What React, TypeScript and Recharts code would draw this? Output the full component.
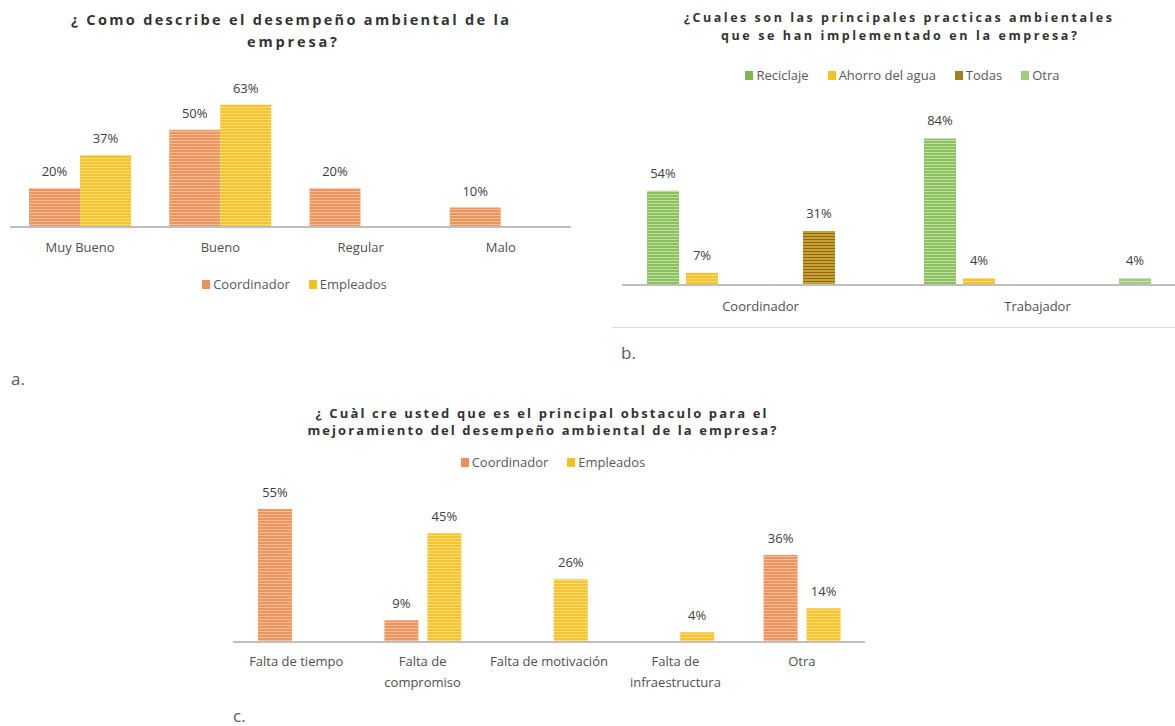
import React from 'react';
import { BarChart, Bar, XAxis, YAxis, Legend, LabelList } from 'recharts';

const FONT = '"Open Sans", "Liberation Sans", sans-serif';

// ---------- Chart a ----------
const ratingCategories = ['Muy Bueno', 'Bueno', 'Regular', 'Malo'];
const ratingCoordinador = [20, 50, 20, 10];
const ratingEmpleados: (number | null)[] = [37, 63, null, null];

// ---------- Chart b ----------
const practiceCategories = ['Coordinador', 'Trabajador'];
const practiceReciclaje = [54, 84];
const practiceAhorro = [7, 4];
const practiceBlankA: (number | null)[] = [null, null];
const practiceBlankB: (number | null)[] = [null, null];
const practiceTodas: (number | null)[] = [31, null];
const practiceOtra: (number | null)[] = [null, 4];

// ---------- Chart c ----------
const obstacleCategories = [
  'Falta de tiempo',
  'Falta de\ncompromiso',
  'Falta de motivación',
  'Falta de\ninfraestructura',
  'Otra',
];
const obstacleCoordinador: (number | null)[] = [55, 9, null, null, 36];
const obstacleEmpleados: (number | null)[] = [null, 45, 26, 4, 14];

const ratingData = ratingCategories.map((c, i) => ({
  name: c,
  Coordinador: ratingCoordinador[i],
  Empleados: ratingEmpleados[i],
}));
const practiceData = practiceCategories.map((c, i) => ({
  name: c,
  Reciclaje: practiceReciclaje[i],
  Ahorro: practiceAhorro[i],
  BlankA: practiceBlankA[i],
  BlankB: practiceBlankB[i],
  Todas: practiceTodas[i],
  Otra: practiceOtra[i],
}));
const obstacleData = obstacleCategories.map((c, i) => ({
  name: c,
  Coordinador: obstacleCoordinador[i],
  Empleados: obstacleEmpleados[i],
}));

const legendColors: Record<string, string> = {
  Coordinador: '#E8915C',
  Empleados: '#F4C21F',
  Reciclaje: '#7DB552',
  'Ahorro del agua': '#F4C21F',
  Todas: '#A08020',
  Otra: '#9FCB80',
};
const legendOrder = ['Coordinador', 'Empleados', 'Reciclaje', 'Ahorro del agua', 'Todas', 'Otra'];

const fmt = (v: any) => (v == null ? '' : `${v}%`);

const makeLegend = (width: number) => (props: any) => {
  const items = (props.payload || [])
    .filter((p: any) => p.type !== 'none' && legendColors[p.value])
    .slice()
    .sort((a: any, b: any) => legendOrder.indexOf(a.value) - legendOrder.indexOf(b.value));
  return (
    <div
      style={{
        width,
        height: 20,
        display: 'flex',
        justifyContent: 'center',
        alignItems: 'center',
        fontFamily: FONT,
        fontSize: 13,
        color: '#595959',
      }}
    >
      {items.map((p: any, i: number) => (
        <div
          key={i}
          style={{ display: 'flex', alignItems: 'center', marginLeft: i ? 19 : 0 }}
        >
          <span
            style={{
              display: 'inline-block',
              width: 8,
              height: 9,
              background: legendColors[p.value],
            }}
          />
          <span style={{ marginLeft: 3, lineHeight: '20px', whiteSpace: 'nowrap' }}>
            {p.value}
          </span>
        </div>
      ))}
    </div>
  );
};

const makeTick = (dy: number, lineGap: number) => (props: any) => {
  const { x, y, payload } = props;
  const lines = String(payload.value).split('\n');
  return (
    <text x={x} y={y} textAnchor="middle" fill="#505050" fontSize={13} fontFamily={FONT}>
      {lines.map((l, i) => (
        <tspan key={i} x={x} dy={i === 0 ? dy : lineGap}>
          {l}
        </tspan>
      ))}
    </text>
  );
};

const Stripes = ({ id, base, line }: { id: string; base: string; line: string }) => (
  <pattern id={id} width={4} height={3} patternUnits="userSpaceOnUse">
    <rect width={4} height={3} fill={base} />
    <rect y={2} width={4} height={1} fill={line} />
  </pattern>
);

const labelStyle = { fill: '#404040', fontSize: 13, fontFamily: FONT };
const axisLine = { stroke: '#BFBFBF', strokeWidth: 2 };

const Title = ({ x, y, len, size, children }: any) => (
  <text
    x={x}
    y={y}
    textAnchor="middle"
    dominantBaseline="central"
    textLength={len}
    lengthAdjust="spacing"
    fontFamily={FONT}
    fontWeight={700}
    fontSize={size}
    fill="#333333"
  >
    {children}
  </text>
);

export default function App() {
  return (
    <div
      style={{
        position: 'fixed',
        left: 0,
        top: 0,
        width: 1175,
        height: 726,
        overflow: 'hidden',
        background: '#fff',
      }}
    >
      <svg
        width={1175}
        height={726}
        style={{ position: 'absolute', left: 0, top: 0 }}
      >
        <Title x={290} y={19} len={438} size={14.5}>¿ Como describe el desempeño ambiental de la</Title>
        <Title x={292} y={41} len={90} size={14.5}>empresa?</Title>
        <Title x={898} y={17} len={428} size={12.5}>¿Cuales son las principales practicas ambientales</Title>
        <Title x={899} y={35} len={356} size={12.5}>que se han implementado en la empresa?</Title>
        <Title x={541} y={413} len={451} size={13}>¿ Cuàl cre usted que es el principal obstaculo para el</Title>
        <Title x={542} y={430} len={469} size={13}>mejoramiento del desempeño ambiental de la empresa?</Title>
        <text x={11} y={378} dominantBaseline="central" fontFamily={FONT} fontSize={17} fill="#595959">a.</text>
        <text x={621} y={352} dominantBaseline="central" fontFamily={FONT} fontSize={17} fill="#595959">b.</text>
        <text x={233} y={715} dominantBaseline="central" fontFamily={FONT} fontSize={17} fill="#595959">c.</text>
      </svg>

      <div style={{ position: 'absolute', left: 612, top: 327, width: 563, height: 1, background: '#D9D9D9' }} />

      {/* Chart a */}
      <div style={{ position: 'absolute', left: 0, top: 0 }}>
        <BarChart
          width={600}
          height={300}
          data={ratingData}
          margin={{ top: 71, right: 29, bottom: 13, left: 10 }}
          barGap={0}
        >
          <defs>
            <Stripes id="a-or" base="#EC955F" line="#F6BE97" />
            <Stripes id="a-ye" base="#F6C42A" line="#FADD7E" />
          </defs>
          <XAxis
            dataKey="name"
            height={60}
            axisLine={axisLine}
            tickLine={false}
            tickSize={0}
            tickMargin={0}
            tick={makeTick(25, 21)}
            interval={0}
          />
          <YAxis hide domain={[0, 70]} />
          <Legend
            verticalAlign="top"
            content={makeLegend(589)}
            wrapperStyle={{ top: 274, left: 0, width: 589 }}
          />
          <Bar dataKey="Coordinador" name="Coordinador" fill="url(#a-or)" barSize={51} isAnimationActive={false}>
            <LabelList dataKey="Coordinador" position="top" offset={12} formatter={fmt} style={labelStyle} />
          </Bar>
          <Bar dataKey="Empleados" name="Empleados" fill="url(#a-ye)" barSize={51} isAnimationActive={false}>
            <LabelList dataKey="Empleados" position="top" offset={12} formatter={fmt} style={labelStyle} />
          </Bar>
        </BarChart>
      </div>

      {/* Chart b */}
      <div style={{ position: 'absolute', left: 600, top: 0 }}>
        <BarChart
          width={580}
          height={330}
          data={practiceData}
          margin={{ top: 108, right: 4, bottom: 5, left: 22 }}
          barGap={7}
        >
          <defs>
            <Stripes id="b-gr" base="#8CC25E" line="#C2E0A6" />
            <Stripes id="b-ye" base="#F6C42A" line="#FADD7E" />
            <Stripes id="b-go" base="#C9A032" line="#8A6A14" />
            <Stripes id="b-lg" base="#9FCB80" line="#C9E3B6" />
          </defs>
          <XAxis
            dataKey="name"
            height={40}
            axisLine={axisLine}
            tickLine={false}
            tickSize={0}
            tickMargin={0}
            tick={makeTick(26, 21)}
            interval={0}
          />
          <YAxis hide domain={[0, 90]} />
          <Legend
            verticalAlign="top"
            content={makeLegend(605)}
            wrapperStyle={{ top: 65, left: 0, width: 605 }}
          />
          <Bar dataKey="Reciclaje" name="Reciclaje" fill="url(#b-gr)" barSize={32} isAnimationActive={false}>
            <LabelList dataKey="Reciclaje" position="top" offset={13} formatter={fmt} style={labelStyle} />
          </Bar>
          <Bar dataKey="Ahorro" name="Ahorro del agua" fill="url(#b-ye)" barSize={32} isAnimationActive={false}>
            <LabelList dataKey="Ahorro" position="top" offset={13} formatter={fmt} style={labelStyle} />
          </Bar>
          <Bar dataKey="BlankA" name="BlankA" legendType="none" fill="#ffffff" barSize={32} isAnimationActive={false} />
          <Bar dataKey="BlankB" name="BlankB" legendType="none" fill="#ffffff" barSize={32} isAnimationActive={false} />
          <Bar dataKey="Todas" name="Todas" fill="url(#b-go)" barSize={32} isAnimationActive={false}>
            <LabelList dataKey="Todas" position="top" offset={13} formatter={fmt} style={labelStyle} />
          </Bar>
          <Bar dataKey="Otra" name="Otra" fill="url(#b-lg)" barSize={32} isAnimationActive={false}>
            <LabelList dataKey="Otra" position="top" offset={13} formatter={fmt} style={labelStyle} />
          </Bar>
        </BarChart>
      </div>

      {/* Chart c */}
      <div style={{ position: 'absolute', left: 220, top: 380 }}>
        <BarChart
          width={660}
          height={320}
          data={obstacleData}
          margin={{ top: 97, right: 15, bottom: 3, left: 13 }}
          barGap={9}
        >
          <defs>
            <Stripes id="c-or" base="#EC955F" line="#F6BE97" />
            <Stripes id="c-ye" base="#F6C42A" line="#FADD7E" />
          </defs>
          <XAxis
            dataKey="name"
            height={55}
            axisLine={axisLine}
            tickLine={false}
            tickSize={0}
            tickMargin={0}
            tick={makeTick(24, 21)}
            interval={0}
          />
          <YAxis hide domain={[0, 60]} />
          <Legend
            verticalAlign="top"
            content={makeLegend(666)}
            wrapperStyle={{ top: 72, left: 0, width: 666 }}
          />
          <Bar dataKey="Coordinador" name="Coordinador" fill="url(#c-or)" barSize={34} isAnimationActive={false}>
            <LabelList dataKey="Coordinador" position="top" offset={12} formatter={fmt} style={labelStyle} />
          </Bar>
          <Bar dataKey="Empleados" name="Empleados" fill="url(#c-ye)" barSize={34} isAnimationActive={false}>
            <LabelList dataKey="Empleados" position="top" offset={12} formatter={fmt} style={labelStyle} />
          </Bar>
        </BarChart>
      </div>
    </div>
  );
}
